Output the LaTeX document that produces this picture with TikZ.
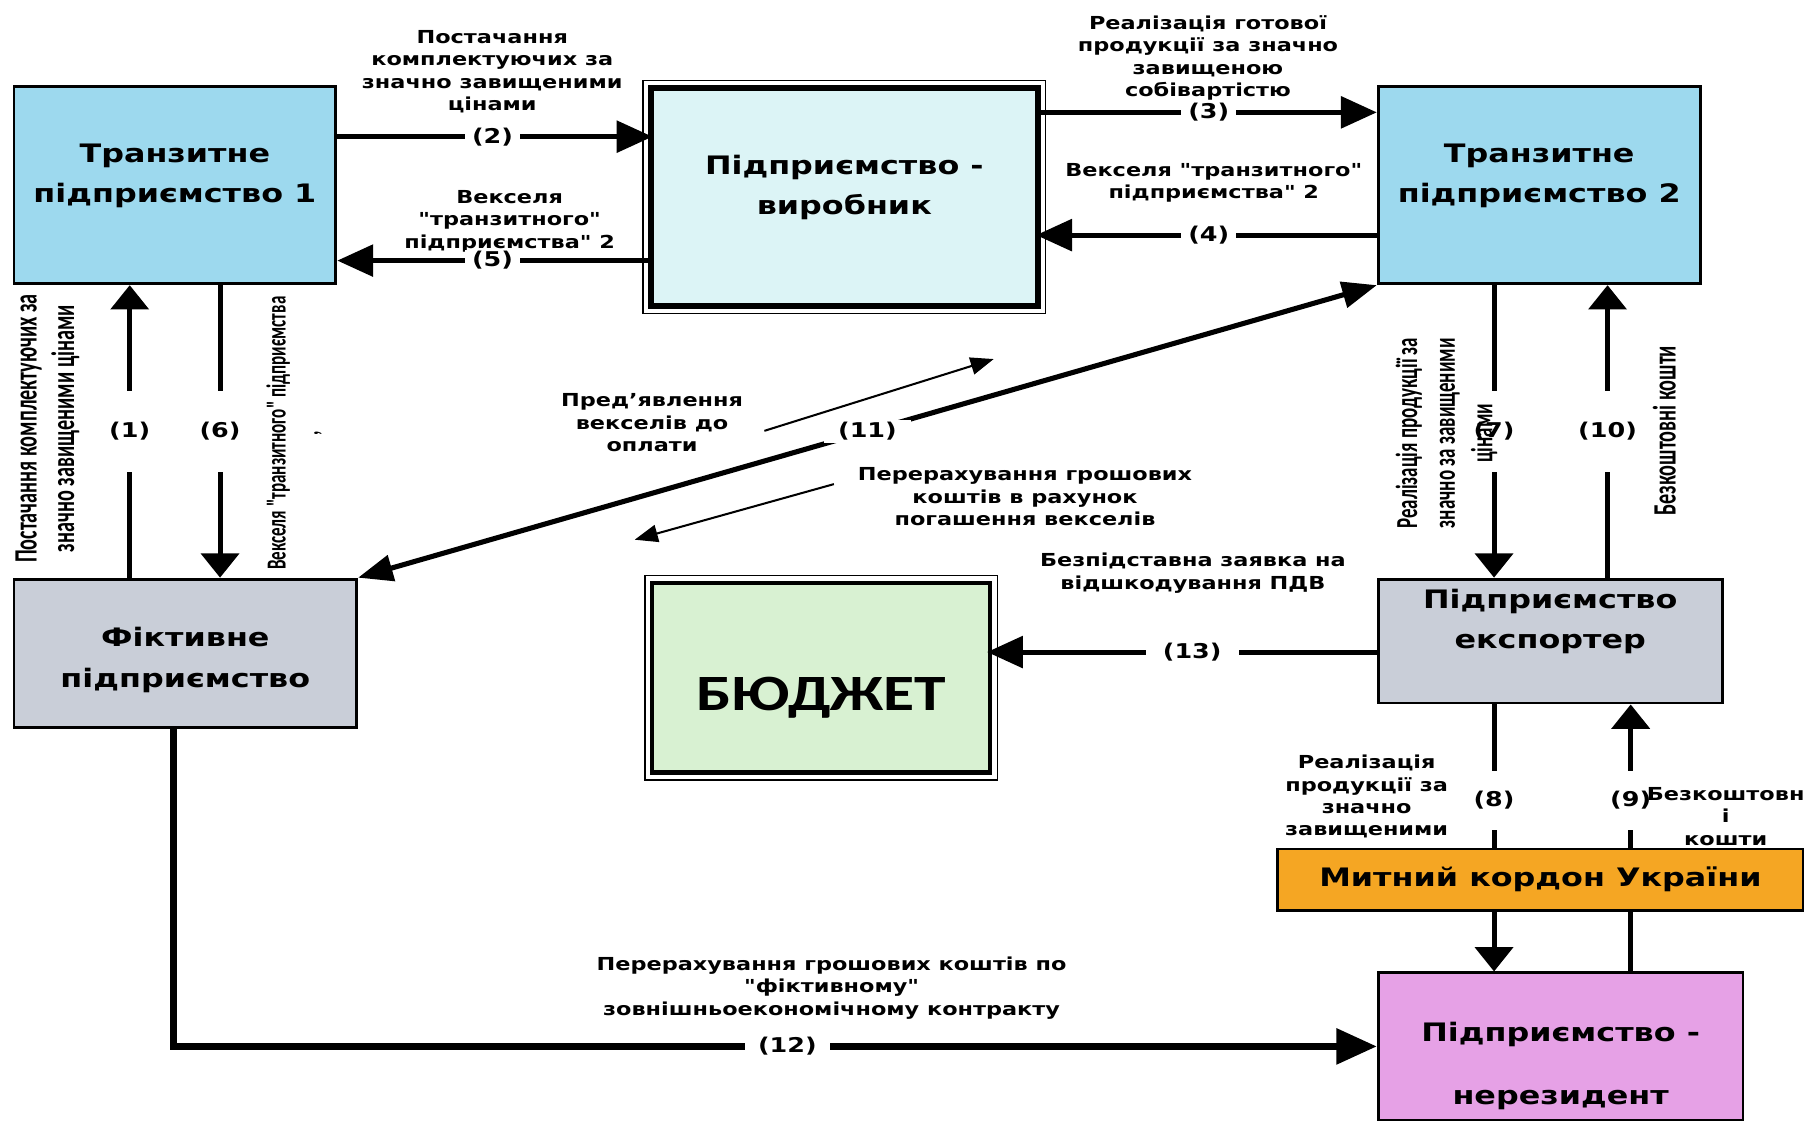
\documentclass[tikz,border=0pt]{standalone}
\usepackage{fontspec}
\setmainfont{DejaVu Sans}[FakeStretch=1.25, Ligatures=TeXOff]
\newfontfamily\calfont{Carlito}[FakeStretch=1.25, Ligatures=TeXOff]
\newfontfamily\narrowfont{Carlito}[FakeStretch=0.62, Ligatures=TeXOff]
\usetikzlibrary{arrows.meta,calc,positioning}
\definecolor{transitblue}{HTML}{9DD9EE}
\definecolor{makerblue}{HTML}{DCF4F6}
\definecolor{firmgrey}{HTML}{C9CED8}
\definecolor{budgetgreen}{HTML}{D8F1D2}
\definecolor{customsorange}{HTML}{F5A623}
\definecolor{foreignpink}{HTML}{E6A1E6}
\tikzset{
  boxtext/.style={align=center, font=\fontsize{12.5}{20}\selectfont\bfseries},
  firm/.style={boxtext, draw, line width=1.4pt, inner sep=0pt},
  hflow/.style={line width=2.5pt, -{Triangle[length=0.62cm, width=0.54cm]}},
  vflow/.style={line width=2.5pt, -{Triangle[length=0.42cm, width=0.65cm]}},
  dflow/.style={line width=2.5pt, {Triangle[length=0.6cm, width=0.45cm]}-{Triangle[length=0.6cm, width=0.45cm]}},
  bigflow/.style={line width=3.4pt, -{Triangle[length=0.7cm, width=0.6cm]}},
  pointer/.style={line width=1pt, -{Triangle[length=0.4cm, width=0.3cm]}},
  num/.style={fill=white, inner xsep=0.12cm, inner ysep=1pt, font=\fontsize{10}{12}\selectfont\bfseries},
  vnum/.style={num, inner xsep=1pt, inner ysep=0.55cm},
  note/.style={align=center, font=\fontsize{8.8}{11}\selectfont\bfseries},
  vnote/.style={align=center, rotate=90, font=\narrowfont\fontsize{16}{18.5}\selectfont\bfseries},
}

\begin{document}
\begin{tikzpicture}[x=0.02cm, y=-0.02cm]
  \useasboundingbox (0,0) rectangle (1568,971);

  % Firms
  \node[firm, fill=transitblue, minimum width=5.56cm, minimum height=3.4cm] (tr1) at (151,160) {Транзитне\\підприємство 1\\[-8pt]\mbox{}};
  \node[firm, fill=makerblue, line width=3pt, minimum width=6.68cm, minimum height=3.76cm] (maker) at (729,170) {Підприємство -\\виробник\\[-8pt]\mbox{}};
  \draw[line width=0.8pt] ([shift={(-0.08cm,0.08cm)}]maker.north west) rectangle ([shift={(0.08cm,-0.08cm)}]maker.south east);
  \node[firm, fill=transitblue, minimum width=5.56cm, minimum height=3.4cm] (tr2) at (1329,160) {Транзитне\\підприємство 2\\[-8pt]\mbox{}};
  \node[firm, fill=firmgrey, minimum width=5.92cm, minimum height=2.56cm] (fict) at (160,564) {};
  \node[boxtext] (fictext) at ([yshift=-0.12cm]fict.center) {Фіктивне\\підприємство};
  \node[firm, fill=budgetgreen, line width=2pt, minimum width=5.84cm, minimum height=3.28cm] (budget) at (709,585) {};
  \draw[line width=0.8pt] ([shift={(-0.09cm,0.09cm)}]budget.north west) rectangle ([shift={(0.09cm,-0.09cm)}]budget.south east);
  \node[font=\calfont\fontsize{25}{30}\selectfont\bfseries] (budtext) at ([yshift=-0.34cm]budget.center) {БЮДЖЕТ};
  \node[firm, fill=firmgrey, minimum width=5.94cm, minimum height=2.14cm] (export) at (1338.5,553.5) {};
  \node[boxtext] (exptext) at ([yshift=0.34cm]export.center) {Підприємство\\експортер};
  \node[firm, fill=foreignpink, minimum width=6.3cm, minimum height=2.54cm] (foreign) at (1347.5,903.5) {};
  \node[boxtext, font=\fontsize{12.5}{31}\selectfont\bfseries] (fortext) at ([yshift=-0.33cm]foreign.center) {Підприємство -\\нерезидент};

  % Notes under the numbers
  \node[note] (t3) at (1043,50) {Реалізація готової\\продукції за значно\\завищеною\\собівартістю};
  \node[note] (t5) at (440,191) {Векселя\\"транзитного"\\підприємства" 2};

  % Levels of the flows
  \coordinate (r2) at (0,118);
  \coordinate (r3) at (0,97);
  \coordinate (r4) at (0,203);
  \coordinate (r5) at (0,225);
  \coordinate (r13) at (0,563);
  \coordinate (c1) at (112,0);
  \coordinate (c6) at (190,0);
  \coordinate (c7) at (1290,0);
  \coordinate (c10) at (1388,0);
  \coordinate (c8) at (1290,0);
  \coordinate (c9) at (1408,0);
  \coordinate (c12) at (150,0);

  % Flows
  \draw[hflow, shorten >=-0.08cm] (tr1.east |- r2) -- node[num] (n2) {(2)} (maker.west |- r2);
  \draw[hflow] (maker.east |- r3) -- node[num] (n3) {(3)} (tr2.west |- r3);
  \draw[hflow, shorten >=-0.08cm] (tr2.west |- r4) -- node[num] (n4) {(4)} (maker.east |- r4);
  \draw[hflow] (maker.west |- r5) -- node[num] (n5) {(5)} (tr1.east |- r5);
  \draw[vflow] (fict.north -| c1) -- node[vnum] (n1) {(1)} (tr1.south -| c1);
  \draw[vflow] (tr1.south -| c6) -- node[vnum] (n6) {(6)} (fict.north -| c6);
  \draw[vflow] (tr2.south -| c7) -- node[vnum] (n7) {(7)} (export.north -| c7);
  \draw[vflow] (export.north -| c10) -- node[vnum] (n10) {(10)} (tr2.south -| c10);
  \draw[vflow] (export.south -| c8) -- node[vnum, inner ysep=0.35cm, pos=0.36] (n8) {(8)} (foreign.north -| c8);
  \draw[vflow] (foreign.north -| c9) -- node[vnum, inner ysep=0.35cm, pos=0.64] (n9) {(9)} (export.south -| c9);
  \draw[hflow, shorten >=-0.09cm] (export.west |- r13) -- node[num, inner xsep=0.3cm, pos=0.48] (n13) {(13)} (budget.east |- r13);
  \draw[dflow] (fict.north east) -- node[num, inner xsep=0.25cm] (n11) {(11)} (tr2.south west);
  \draw[bigflow] (fict.south -| c12) |- node[num, inner xsep=0.23cm, pos=0.755] (n12) {(12)} (foreign.west);

  % Customs border over flows (8) and (9)
  \node[firm, fill=customsorange, line width=1.2pt, minimum width=9.08cm, minimum height=1.06cm] (customs) at (1330,759.5) {Митний кордон України};

  % Bills and payments
  \coordinate (pa1) at (660,372);
  \coordinate (pa2) at (858,310);
  \coordinate (pb1) at (720,418);
  \coordinate (pb2) at (548,466);
  \draw[pointer] (pa1) -- (pa2);
  \draw[pointer] (pb1) -- (pb2);

  % Other notes
  \node[note] (t2) at (425,62) {Постачання\\комплектуючих за\\значно завищеними\\цінами};
  \node[note] (t4) at (1048,158) {Векселя "транзитного"\\підприємства" 2};
  \node[note] (tpa) at (563,365) {Пред’явлення\\векселів до\\оплати};
  \node[note] (tpb) at (885,429) {Перерахування грошових\\коштів в рахунок\\погашення векселів};
  \node[note] (t13) at (1030,495) {Безпідставна заявка на\\відшкодування ПДВ};
  \node[note] (t8) at (1180,688) {Реалізація\\продукції за\\значно\\завищеними};
  \node[note] (t9) at (1490,705) {Безкоштовн\\і\\кошти};
  \node[note] (t12) at (718,853) {Перерахування грошових коштів по\\"фіктивному"\\зовнішньоекономічному контракту};
  \node[vnote] (t1) at (41,370) {Постачання комплектуючих за\\значно завищеними цінами};
  \node[vnote, font=\narrowfont\fontsize{13.5}{16}\selectfont\bfseries] (t6) at (254,374) {Векселя "транзитного" підприємства\\,};
  \node[vnote, font=\narrowfont\fontsize{15}{18.5}\selectfont\bfseries] (t7) at (1249,374) {Реалізація продукції за\\значно за завищеними\\цінами};
  \node[vnote] (t10) at (1437,372) {Безкоштовні кошти};
\end{tikzpicture}
\end{document}
